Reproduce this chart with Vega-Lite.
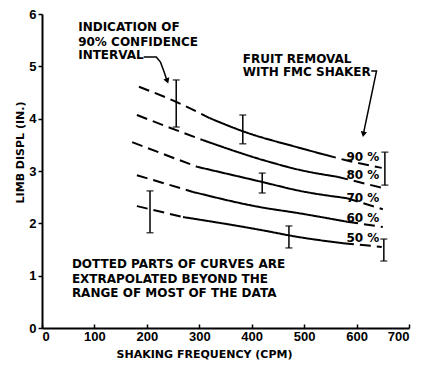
{
  "$schema": "https://vega.github.io/schema/vega-lite/v6.json",
  "width": 367,
  "height": 314,
  "autosize": "none",
  "padding": {"left": 42, "top": 14, "right": 13, "bottom": 38},
  "background": "white",
  "config": {
    "view": {"stroke": null},
    "font": "DejaVu Sans",
    "axis": {"grid": false, "domainColor": "black", "domainWidth": 2, "tickColor": "black", "tickWidth": 1.5, "labelColor": "black", "titleColor": "black", "labelFont": "Liberation Sans", "labelFontWeight": "bold", "labelFontSize": 13, "titleFont": "DejaVu Sans", "titleFontWeight": "bold", "titleFontSize": 11}
  },
  "datasets": {
    "curves": [
      {"seg": "90a", "style": "dashed", "x": 185, "y": 4.61},
      {"seg": "90a", "style": "dashed", "x": 256, "y": 4.32},
      {"seg": "90a", "style": "dashed", "x": 320, "y": 4.01},
      {"seg": "90b", "style": "solid", "x": 320, "y": 4.01},
      {"seg": "90b", "style": "solid", "x": 383, "y": 3.76},
      {"seg": "90b", "style": "solid", "x": 492, "y": 3.44},
      {"seg": "90b", "style": "solid", "x": 540, "y": 3.31},
      {"seg": "90c", "style": "dashed", "x": 540, "y": 3.31},
      {"seg": "90c", "style": "dashed", "x": 578, "y": 3.21},
      {"seg": "90c", "style": "dashed", "x": 648, "y": 3.06},
      {"seg": "80a", "style": "dashed", "x": 181, "y": 4.07},
      {"seg": "80a", "style": "dashed", "x": 256, "y": 3.78},
      {"seg": "80a", "style": "dashed", "x": 307, "y": 3.59},
      {"seg": "80b", "style": "solid", "x": 307, "y": 3.59},
      {"seg": "80b", "style": "solid", "x": 435, "y": 3.17},
      {"seg": "80b", "style": "solid", "x": 492, "y": 3.02},
      {"seg": "80b", "style": "solid", "x": 563, "y": 2.89},
      {"seg": "80c", "style": "dashed", "x": 563, "y": 2.89},
      {"seg": "80c", "style": "dashed", "x": 648, "y": 2.68},
      {"seg": "70a", "style": "dashed", "x": 172, "y": 3.55},
      {"seg": "70a", "style": "dashed", "x": 235, "y": 3.31},
      {"seg": "70a", "style": "dashed", "x": 296, "y": 3.08},
      {"seg": "70b", "style": "solid", "x": 296, "y": 3.08},
      {"seg": "70b", "style": "solid", "x": 420, "y": 2.79},
      {"seg": "70b", "style": "solid", "x": 492, "y": 2.62},
      {"seg": "70b", "style": "solid", "x": 582, "y": 2.48},
      {"seg": "70c", "style": "dashed", "x": 582, "y": 2.48},
      {"seg": "70c", "style": "dashed", "x": 650, "y": 2.27},
      {"seg": "60a", "style": "dashed", "x": 181, "y": 2.92},
      {"seg": "60a", "style": "dashed", "x": 288, "y": 2.6},
      {"seg": "60b", "style": "solid", "x": 288, "y": 2.6},
      {"seg": "60b", "style": "solid", "x": 416, "y": 2.31},
      {"seg": "60b", "style": "solid", "x": 492, "y": 2.19},
      {"seg": "60b", "style": "solid", "x": 582, "y": 2.03},
      {"seg": "60c", "style": "dashed", "x": 582, "y": 2.03},
      {"seg": "60c", "style": "dashed", "x": 650, "y": 1.93},
      {"seg": "50a", "style": "dashed", "x": 181, "y": 2.33},
      {"seg": "50a", "style": "dashed", "x": 206, "y": 2.27},
      {"seg": "50a", "style": "dashed", "x": 269, "y": 2.12},
      {"seg": "50b", "style": "solid", "x": 269, "y": 2.12},
      {"seg": "50b", "style": "solid", "x": 435, "y": 1.84},
      {"seg": "50b", "style": "solid", "x": 471, "y": 1.77},
      {"seg": "50b", "style": "solid", "x": 574, "y": 1.62},
      {"seg": "50c", "style": "dashed", "x": 574, "y": 1.62},
      {"seg": "50c", "style": "dashed", "x": 648, "y": 1.55}
    ],
    "bars": [
      {"x": 256, "lo": 3.84, "hi": 4.74},
      {"x": 383, "lo": 3.52, "hi": 4.07},
      {"x": 420, "lo": 2.58, "hi": 2.96},
      {"x": 206, "lo": 1.82, "hi": 2.62},
      {"x": 471, "lo": 1.53, "hi": 1.95},
      {"x": 654, "lo": 2.73, "hi": 3.36},
      {"x": 652, "lo": 1.28, "hi": 1.7}
    ],
    "pct": [
      {"x": 612, "y": 3.27, "label": "90 %"},
      {"x": 612, "y": 2.92, "label": "80 %"},
      {"x": 612, "y": 2.48, "label": "70 %"},
      {"x": 612, "y": 2.1, "label": "60 %"},
      {"x": 612, "y": 1.72, "label": "50 %"}
    ],
    "notes": [
      {"x": 69, "y": 5.75, "label": "INDICATION OF"},
      {"x": 69, "y": 5.47, "label": "90% CONFIDENCE"},
      {"x": 69, "y": 5.22, "label": "INTERVAL"},
      {"x": 383, "y": 5.14, "label": "FRUIT REMOVAL"},
      {"x": 383, "y": 4.89, "label": "WITH FMC SHAKER"},
      {"x": 57, "y": 1.22, "label": "DOTTED PARTS OF CURVES ARE"},
      {"x": 57, "y": 0.94, "label": "EXTRAPOLATED BEYOND THE"},
      {"x": 57, "y": 0.67, "label": "RANGE OF MOST OF THE DATA"}
    ],
    "arrows": [
      {"a": "A", "i": 1, "x": 194, "y": 5.18},
      {"a": "A", "i": 2, "x": 218, "y": 5.18},
      {"a": "A", "i": 3, "x": 226, "y": 5.08},
      {"a": "A", "i": 4, "x": 233, "y": 4.89},
      {"a": "A", "i": 5, "x": 238, "y": 4.74},
      {"a": "B", "i": 1, "x": 628, "y": 4.91},
      {"a": "B", "i": 2, "x": 638, "y": 4.91},
      {"a": "B", "i": 3, "x": 613, "y": 3.71}
    ],
    "heads": [
      {"a": "A", "x": 239, "y": 4.72},
      {"a": "B", "x": 613, "y": 3.7}
    ]
  },
  "layer": [
    {
      "data": {"name": "curves"},
      "mark": {"type": "line", "color": "black", "strokeWidth": 2, "interpolate": "monotone"},
      "encoding": {
        "x": {"field": "x", "type": "quantitative", "scale": {"domain": [0, 700]}, "title": "SHAKING FREQUENCY (CPM)",
              "axis": {"values": [0, 100, 200, 300, 400, 500, 600, 700], "tickSize": -4, "labelPadding": 6, "title": "SHAKING FREQUENCY (CPM)", "titleX": 162, "titleY": 26, "titleAnchor": null, "titleAlign": "center", "titleBaseline": "middle"}},
        "y": {"field": "y", "type": "quantitative", "scale": {"domain": [0, 6]}, "title": "LIMB DISPL (IN.)",
              "axis": {"values": [0, 1, 2, 3, 4, 5, 6], "tickSize": 4, "labelPadding": 2, "title": "LIMB DISPL (IN.)", "titleX": -22, "titleY": 138, "titleAnchor": null, "titleAlign": "center", "titleBaseline": "middle", "titleAngle": -90}},
        "detail": {"field": "seg"},
        "strokeDash": {"field": "style", "type": "nominal", "scale": {"domain": ["solid", "dashed"], "range": [[1, 0], [11, 6]]}, "legend": null}
      }
    },
    {
      "data": {"name": "bars"},
      "mark": {"type": "errorbar", "ticks": {"size": 7, "thickness": 1.5, "color": "black"}, "rule": {"strokeWidth": 1.5, "color": "black"}},
      "encoding": {
        "x": {"field": "x", "type": "quantitative", "title": "SHAKING FREQUENCY (CPM)"},
        "y": {"field": "lo", "type": "quantitative", "title": "LIMB DISPL (IN.)"},
        "y2": {"field": "hi"}
      }
    },
    {
      "data": {"name": "pct"},
      "mark": {"type": "text", "font": "DejaVu Sans", "fontWeight": "bold", "fontSize": 12, "align": "center", "baseline": "middle", "color": "black"},
      "encoding": {
        "x": {"field": "x", "type": "quantitative", "title": "SHAKING FREQUENCY (CPM)"},
        "y": {"field": "y", "type": "quantitative", "title": "LIMB DISPL (IN.)"},
        "text": {"field": "label"}
      }
    },
    {
      "data": {"name": "notes"},
      "mark": {"type": "text", "font": "DejaVu Sans", "fontWeight": "bold", "fontSize": 12, "align": "left", "baseline": "middle", "color": "black"},
      "encoding": {
        "x": {"field": "x", "type": "quantitative", "title": "SHAKING FREQUENCY (CPM)"},
        "y": {"field": "y", "type": "quantitative", "title": "LIMB DISPL (IN.)"},
        "text": {"field": "label"}
      }
    },
    {
      "data": {"name": "arrows"},
      "mark": {"type": "line", "color": "black", "strokeWidth": 1.5},
      "encoding": {
        "x": {"field": "x", "type": "quantitative", "title": "SHAKING FREQUENCY (CPM)"},
        "y": {"field": "y", "type": "quantitative", "title": "LIMB DISPL (IN.)"},
        "detail": {"field": "a"},
        "order": {"field": "i", "type": "quantitative"}
      }
    },
    {
      "data": {"name": "heads"},
      "transform": [{"filter": "datum.a === 'A'"}],
      "mark": {"type": "point", "shape": "triangle-down", "filled": true, "color": "black", "size": 40, "angle": 340, "opacity": 1},
      "encoding": {
        "x": {"field": "x", "type": "quantitative", "title": "SHAKING FREQUENCY (CPM)"},
        "y": {"field": "y", "type": "quantitative", "title": "LIMB DISPL (IN.)"}
      }
    },
    {
      "data": {"name": "heads"},
      "transform": [{"filter": "datum.a === 'B'"}],
      "mark": {"type": "point", "shape": "triangle-down", "filled": true, "color": "black", "size": 40, "angle": 10, "opacity": 1},
      "encoding": {
        "x": {"field": "x", "type": "quantitative", "title": "SHAKING FREQUENCY (CPM)"},
        "y": {"field": "y", "type": "quantitative", "title": "LIMB DISPL (IN.)"}
      }
    }
  ]
}
